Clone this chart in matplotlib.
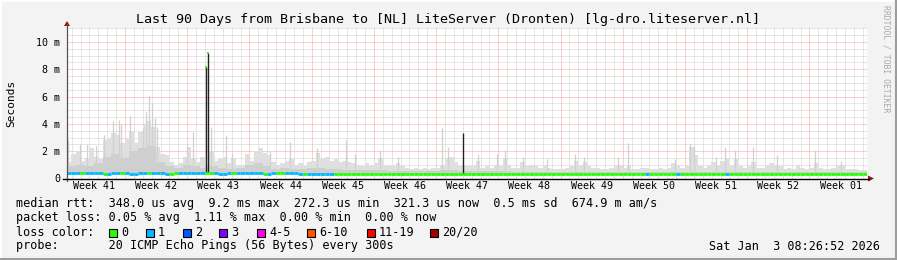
import matplotlib
matplotlib.use('Agg')
import matplotlib.pyplot as plt
from matplotlib.lines import Line2D
from matplotlib.patches import Rectangle, Polygon
import numpy as np

plt.rcParams['font.family'] = ['DejaVu Sans Mono']

# ---------------- data ----------------
title = "Last 90 Days from Brisbane to [NL] LiteServer (Dronten) [lg-dro.liteserver.nl]"
week_labels = ["Week 41", "Week 42", "Week 43", "Week 44", "Week 45", "Week 46", "Week 47",
               "Week 48", "Week 49", "Week 50", "Week 51", "Week 52", "Week 01"]
ytick_vals = [0, 2, 4, 6, 8, 10]
ytick_labels = ["0", "2 m", "4 m", "6 m", "8 m", "10 m"]

# smoke envelope (ms), one value per half day
smoke_max = [1.2, 1.8, 2.0, 1.3, 1.5, 2.2, 1.6, 1.4, 2.8, 3.0,
             3.3, 3.2, 2.6, 2.9, 3.5, 2.6, 3.4, 3.9, 4.2, 3.8,
             2.3, 1.8, 1.7, 1.2, 1.0, 1.1, 1.6, 2.3, 1.5, 1.2,
             1.6, 1.0, 2.0, 1.3, 1.4, 1.6, 1.1, 1.5, 1.0, 1.0,
             1.8, 1.3, 2.0, 2.2, 1.9, 1.7, 1.2, 1.0, 1.1, 1.3,
             1.4, 1.0, 1.1, 0.9, 1.2, 1.3, 1.9, 1.5, 1.6, 1.3,
             1.4, 1.2, 1.3, 1.2, 1.1, 1.0, 0.9, 1.1, 1.0, 1.1,
             1.5, 1.0, 0.9, 0.9, 1.1, 0.9, 0.8, 0.7, 0.8, 0.7,
             0.8, 0.7, 0.8, 0.8, 1.0, 1.5, 1.6, 1.2, 1.0, 0.9,
             0.9, 1.0, 1.3, 0.8, 0.9, 0.8, 1.0, 0.9, 1.4, 1.0,
             0.8, 0.8, 1.2, 0.9, 1.0, 0.9, 0.8, 1.0, 0.8, 0.7,
             0.7, 0.7, 0.8, 0.9, 1.3, 1.0, 1.2, 0.9, 0.8, 0.8,
             0.7, 0.7, 0.8, 0.9, 1.0, 0.8, 0.9, 0.7, 0.7, 0.8,
             0.8, 0.7, 0.7, 0.8, 0.7, 0.8, 1.1, 1.0, 0.8, 0.9,
             2.3, 1.7, 0.9, 0.8, 0.9, 1.2, 1.0, 1.3, 1.5, 1.0,
             1.4, 0.9, 0.8, 0.9, 1.2, 0.8, 0.8, 1.0, 1.1, 1.0,
             0.9, 0.7, 0.8, 0.7, 1.0, 0.8, 0.7, 0.8, 1.1, 0.8,
             0.7, 0.7, 0.8, 0.9, 1.0, 0.7, 0.7, 0.7, 0.6, 0.6]

# denser (darker) smoke core (ms), one value per day
smoke_core = [0.9, 1.0, 0.9, 1.1, 1.6, 1.8, 1.5, 2.0, 2.2, 2.4,
              1.2, 0.9, 0.8, 1.0, 0.9, 0.8, 0.9, 0.8, 0.7, 0.8,
              1.0, 1.1, 0.9, 0.7, 0.8, 0.7, 0.7, 0.8, 0.8, 0.7,
              0.7, 0.6, 0.6, 0.6, 0.6, 0.6, 0.55, 0.55, 0.55, 0.55,
              0.55, 0.55, 0.6, 0.6, 0.55, 0.55, 0.55, 0.55, 0.55, 0.55,
              0.5, 0.5, 0.5, 0.5, 0.5, 0.5, 0.5, 0.5, 0.5, 0.5,
              0.5, 0.5, 0.5, 0.5, 0.5, 0.5, 0.5, 0.5, 0.5, 0.5,
              0.5, 0.5, 0.5, 0.5, 0.5, 0.5, 0.5, 0.5, 0.5, 0.5,
              0.5, 0.5, 0.5, 0.5, 0.5, 0.5, 0.5, 0.5, 0.5, 0.5]

# narrow smoke spikes: day, height (ms)
spike_days = [0.11, 1.46, 2.25, 3.26, 4.16, 5.17, 5.85, 6.07, 7.09, 8.55, 8.89, 9.22, 9.56,
              9.90, 10.12, 13.50, 14.17, 16.20, 17.89, 18.56, 22.84, 25.09, 28.13, 31.39,
              32.40, 35.21, 37.24, 42.19, 42.86, 46.24, 48.37, 49.27, 51.30, 54.00, 57.15,
              58.16, 61.99, 63.11, 68.40, 70.09, 70.54, 73.01, 74.03, 75.15, 77.18, 79.87,
              84.15, 87.07]
spike_vals = [2.8, 2.5, 2.5, 2.4, 3.2, 4.2, 4.3, 4.0, 4.6, 3.7, 4.9, 6.1, 5.5,
              4.4, 3.8, 2.6, 3.4, 3.8, 3.2, 1.9, 2.0, 2.7, 2.2, 2.8,
              1.8, 2.1, 1.6, 3.7, 2.3, 1.8, 1.8, 2.1, 1.6, 1.4, 1.8,
              1.6, 1.6, 2.6, 1.4, 2.5, 2.4, 1.6, 2.3, 2.1, 2.3, 1.7,
              2.1, 1.3]

# dense (dark) spikes where all pings were high
dark_days = [15.61, 15.82, 44.55]
dark_vals = [8.2, 9.2, 3.3]
dark_median = [8.2, 9.2, None]

# median rtt (ms), one value per day
median = [0.37, 0.37, 0.37, 0.37, 0.36, 0.37, 0.37, 0.36, 0.37, 0.37,
          0.37, 0.36, 0.37, 0.37, 0.37, 0.37, 0.37, 0.36, 0.37, 0.37,
          0.37, 0.37, 0.36, 0.37, 0.37, 0.37, 0.36, 0.36, 0.36, 0.36,
          0.34, 0.34, 0.34, 0.34, 0.34, 0.34, 0.34, 0.34, 0.34, 0.34,
          0.34, 0.34, 0.34, 0.34, 0.34, 0.34, 0.34, 0.34, 0.34, 0.34,
          0.34, 0.34, 0.34, 0.34, 0.34, 0.34, 0.34, 0.34, 0.34, 0.34,
          0.34, 0.34, 0.34, 0.34, 0.34, 0.34, 0.34, 0.34, 0.34, 0.34,
          0.34, 0.34, 0.34, 0.34, 0.34, 0.34, 0.34, 0.34, 0.34, 0.34,
          0.34, 0.34, 0.34, 0.34, 0.34, 0.34, 0.34, 0.34, 0.34, 0.34]

# loss class per half day (index into loss_colors)
loss = [1, 1, 1, 0, 1, 1, 1, 1, 0, 1,
        1, 1, 0, 1, 1, 1, 1, 1, 0, 1,
        1, 1, 1, 0, 0, 1, 1, 1, 1, 1,
        1, 0, 0, 1, 1, 1, 1, 0, 1, 1,
        1, 1, 1, 1, 0, 1, 1, 0, 0, 1,
        1, 1, 1, 0, 1, 1, 1, 1, 1, 1] + [0] * 120
loss[130] = 1
loss[137] = 1
loss[148] = 1

loss_labels = ["0", "1", "2", "3", "4-5", "6-10", "11-19", "20/20"]
loss_colors = ["#26ff00", "#00b8ff", "#0059ff", "#7e00ff", "#ff00ea", "#ff5500", "#ff0000", "#a10000"]

stat_lines = [
    "median rtt:  348.0 us avg  9.2 ms max  272.3 us min  321.3 us now  0.5 ms sd  674.9 m am/s",
    "packet loss: 0.05 % avg  1.11 % max  0.00 % min  0.00 % now",
]
probe_line = "probe:       20 ICMP Echo Pings (56 Bytes) every 300s"
date_text = "Sat Jan  3 08:26:52 2026"

# ---------------- figure ----------------
W, H = 897, 260
fig = plt.figure(figsize=(W / 100, H / 100), dpi=100, facecolor='#F3F3F3')


def fx(x):
    return x / W


def fy(y):
    return 1 - y / H


X0, X1, Y0, Y1 = 67, 867, 178.5, 27.5
ax = fig.add_axes([fx(X0), fy(Y0), (X1 - X0) / W, (Y0 - Y1) / H])
ax.set_xlim(0, 90)
ax.set_ylim(0, 11.06)
ax.set_facecolor('white')
for s in ax.spines.values():
    s.set_visible(False)

dot = (0, (1, 1))
minor_c = '#CFCFCF'
major_c = '#F5A3A3'
first_week = 6.53
for v in np.arange(0.5, 11.01, 0.5):
    if abs(v % 2) > 1e-6:
        ax.axhline(v, color=minor_c, lw=0.72, ls=dot, zorder=0)
for d in np.arange(first_week - 6, 90, 1.0):
    if abs((d - first_week) % 7) > 1e-6 and abs((d - first_week) % 7 - 7) > 1e-6:
        ax.axvline(d, color=minor_c, lw=0.72, ls=dot, zorder=0)
for v in ytick_vals[1:]:
    ax.axhline(v, color=major_c, lw=0.72, ls=dot, zorder=0.5)
week_lines = np.arange(first_week, 90, 7.0)
for d in week_lines:
    ax.axvline(d, color=major_c, lw=0.72, ls=dot, zorder=0.5)

# smoke
half = np.arange(len(smoke_max)) * 0.5 + 0.25
med_half = np.repeat(median, 2)
ax.bar(half, np.array(smoke_max) - med_half, width=0.5, bottom=med_half,
       color='#DFDFDF', linewidth=0, zorder=1)
days = np.arange(len(smoke_core)) + 0.5
ax.bar(days, np.array(smoke_core) - np.array(median), width=1.0, bottom=median,
       color='#CFCFCF', linewidth=0, zorder=1.2)
spk_med = np.interp(spike_days, days, median)
ax.vlines(spike_days, spk_med, spike_vals, color='#D0D0D0', lw=0.9, zorder=1.5)
dk_med = np.interp(dark_days, days, median)
ax.vlines(dark_days, dk_med, dark_vals, color='#222222', lw=1.0, zorder=2)

# median line coloured by loss
for i, l in enumerate(loss):
    ax.hlines(med_half[i], i * 0.5, i * 0.5 + 0.5, color=loss_colors[l], lw=2.0,
              zorder=3, capstyle='butt')
for d, m in zip(dark_days, dark_median):
    if m is not None:
        ax.hlines(m, d - 0.12, d + 0.12, color=loss_colors[0], lw=1.4, zorder=3)

# ticks / labels
ax.set_xticks(np.arange(len(week_labels)) * 7 + first_week - 3.5, week_labels)
ax.set_yticks(ytick_vals, ytick_labels)
ax.tick_params(axis='both', length=0, labelsize=7.2, colors='#000000')
ax.tick_params(axis='y', pad=5)
ax.tick_params(axis='x', pad=2)

# axes lines and arrows
fig.add_artist(Line2D([fx(X0), fx(X0)], [fy(181), fy(24)], color='#555555', lw=0.9))
fig.add_artist(Line2D([fx(63), fx(869)], [fy(Y0), fy(Y0)], color='#000000', lw=1.0))
fig.add_artist(Polygon([[fx(64), fy(26)], [fx(70), fy(26)], [fx(67), fy(21)]],
                       closed=True, color='#8B1A1A', lw=0))
fig.add_artist(Polygon([[fx(868), fy(175.5)], [fx(868), fy(181.5)], [fx(874), fy(178.5)]],
                       closed=True, color='#8B1A1A', lw=0))

# texts
fig.text(fx(447.5), fy(19), title, ha='center', va='center', fontsize=9.6)
fig.text(fx(11), fy(103), 'Seconds', rotation=90, ha='center', va='center', fontsize=8)
fig.text(fx(886), fy(59), 'RRDTOOL / TOBI OETIKER', rotation=270, ha='center', va='center',
         fontsize=5.9, color='#AAAAAA')
for k, line in enumerate(stat_lines):
    fig.text(fx(16), fy(204 + 14 * k), line, ha='left', va='center', fontsize=8.5)
fig.text(fx(16), fy(232), 'loss color:', ha='left', va='center', fontsize=8.5)
box_x = [109, 146, 183, 219, 257, 307, 367, 430]
for bx, lab, col in zip(box_x, loss_labels, loss_colors):
    fig.add_artist(Rectangle((fx(bx), fy(236.5)), 8 / W, 8 / H, facecolor=col,
                             edgecolor='black', lw=0.8))
    fig.text(fx(bx + 12), fy(232), lab, ha='left', va='center', fontsize=8.5)
fig.text(fx(16), fy(246), probe_line, ha='left', va='center', fontsize=8.5)
fig.text(fx(880), fy(246), date_text, ha='right', va='center', fontsize=8.5)

# 3D-ish frame
fig.add_artist(Line2D([0, 1], [fy(0.5), fy(0.5)], color='#FFFFFF', lw=1.4))
fig.add_artist(Line2D([fx(0.5), fx(0.5)], [0, 1], color='#FFFFFF', lw=1.4))
fig.add_artist(Line2D([0, 1], [fy(258.8), fy(258.8)], color='#9C9C9C', lw=2.2))
fig.add_artist(Line2D([fx(895.8), fx(895.8)], [0, 1], color='#9C9C9C', lw=2.2))

fig.savefig('out.png', dpi=100, facecolor=fig.get_facecolor())
